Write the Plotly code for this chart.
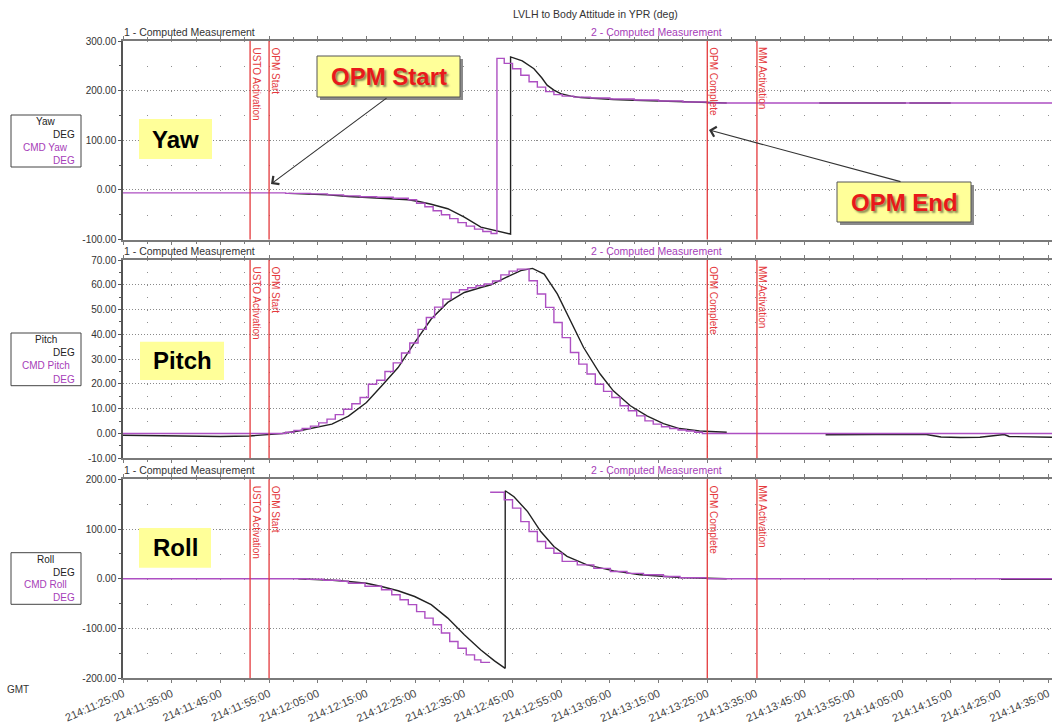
import plotly.graph_objects as go

W, H = 1052, 728
FONT = "Liberation Sans, Arial, sans-serif"
BLACK = "#222222"
PURPLE = "#ad4fc2"
PURPLE_TXT = "#a63db8"
RED = "#e4393c"
X_END = 190.8

# ---------------- data (time in minutes after 214:11:25:00) ----------------
tick_minutes = [0, 10, 20, 30, 40, 50, 60, 70, 80, 90, 100, 110, 120, 130, 140, 150, 160, 170, 180, 190]
tick_labels = ["214:11:25:00", "214:11:35:00", "214:11:45:00", "214:11:55:00", "214:12:05:00",
               "214:12:15:00", "214:12:25:00", "214:12:35:00", "214:12:45:00", "214:12:55:00",
               "214:13:05:00", "214:13:15:00", "214:13:25:00", "214:13:35:00", "214:13:45:00",
               "214:13:55:00", "214:14:05:00", "214:14:15:00", "214:14:25:00", "214:14:35:00"]

event_names = ["USTO Activation", "OPM Start", "OPM Complete", "MM Activation"]
event_minutes = [26.1, 30.0, 120.0, 130.2]

# Yaw
yaw_t = [34, 38, 42, 46.3, 50, 54, 58.6, 61, 63.3, 66.7, 70.1, 73.5, 76.9, 79.6, 79.6, 82, 84.4, 86,
         87.1, 88.5, 89.9, 92, 94, 97, 100.7, 105, 110, 115, 120, 124, 130, 143, 160.8, 161.2, 161.5, 170]
yaw_v = [-7, -8, -10, -13.5, -15, -17, -20, -24, -29, -38, -55, -75, -83.5, -89, 268, 260, 244, 226,
         211, 201, 194, 189, 186, 184, 182, 180.5, 179, 177, 175, 175, None, 175, 175, None, 175, 175]
cmd_yaw_t = [0, 33.4, 38.5, 42.0, 45.3, 48.7, 52.1, 55.5, 58.6, 60.3, 62.0, 63.7, 65.4, 67.1, 68.8,
             70.5, 72.2, 73.9, 75.6, 76.8, 78.3, 80.0, 81.7, 83.4, 85.1, 86.8, 88.5, 90.2, 92.6, 96.0,
             100.0, 105.0, 110.0, 115.0, 120.0, 190.8]
cmd_yaw_v = [-6, -7, -8, -10, -12, -14, -15, -17, -20, -27, -34, -42, -50, -58, -66,
             -73, -79, -84, -88, 265, 255, 244, 231, 218, 207, 198, 192, 189, 187, 185,
             183, 181, 179, 177, 175, 175]

# Pitch
pitch_t = [0, 10, 20, 26, 30, 32.7, 36, 40, 42.9, 46.3, 50, 53.1, 56.5, 59.9, 63.3, 66.7, 70.1, 73.5,
           75.6, 78.7, 81.7, 84.1, 86.5, 89.2, 91.9, 94.6, 98.0, 100.7, 104.2, 107.6, 111.0, 114.3,
           118.4, 121, 124, 130, 144.3, 150, 155, 160, 164.7, 168, 172, 176, 180, 181, 182, 190.8]
pitch_v = [-0.7, -1, -1.2, -1, -0.3, 0, 1, 2.5, 3.8, 7, 12.5, 19.2, 26.6, 36.7, 46.2, 52.9, 56.9, 58.9,
           60, 63, 65.7, 66.6, 64.3, 56.3, 45.5, 34.7, 24, 17.2, 11.2, 7.1, 4, 2,
           1, 0.7, 0.5, None, -0.5, -0.5, -0.5, -0.4, -0.3, -1.4, -1.6, -1.5, -0.8, -0.4, -1.2, -1.5]
cmd_pitch_t = [0, 33.4, 35.1, 36.8, 38.5, 40.2, 41.9, 43.6, 45.3, 47.0, 48.7, 50.4, 52.1, 53.8, 55.5,
               57.2, 58.9, 60.6, 62.3, 64.0, 65.7, 67.4, 69.1, 70.8, 72.5, 74.2, 75.9, 77.6, 79.3,
               81.0, 83.4, 85.1, 86.8, 88.5, 90.2, 91.9, 93.6, 95.3, 97.0, 98.7, 100.4, 102.1,
               103.8, 105.5, 107.2, 108.9, 110.6, 112.3, 114.0, 115.7, 117.4, 119.0, 190.8]
cmd_pitch_v = [0, 0.5, 1.2, 2.0, 3.0, 4.3, 5.8, 7.6, 9.8, 12.0, 14.5, 19.9, 21.5, 25.0, 28.5,
               32.5, 36.5, 42.0, 46.8, 51.0, 54.2, 56.9, 58.0, 58.8, 59.6, 60.3, 61.5, 64.0, 65.5,
               66.3, 61.6, 56.3, 50.9, 44.8, 38.7, 32.7, 28.0, 24.0, 19.9, 17.0, 14.5, 11.2,
               9.2, 7.1, 5.1, 3.8, 2.7, 2.0, 1.4, 1.0, 0.5, 0, 0]

# Roll
roll_t = [36, 40, 43, 46.3, 50, 53.1, 56.5, 59.9, 63.3, 66.7, 70.1, 73.5, 76.3, 78.5, 78.5, 80.3, 83.1,
          85.8, 88.5, 91.2, 95.3, 100.8, 106.2, 114.4, 120, 124, 150, 180.3, 190.8]
roll_v = [0, -1, -3, -5.4, -9, -15.5, -24, -35.6, -52, -79, -112.6, -143, -165, -180, 177, 165, 135,
          95, 65, 45, 28, 16, 8, 2.6, 0.5, 0, None, -1, -1]
cmd_roll_t = [0, 37.8, 41.2, 44.6, 46.3, 49.7, 53.1, 55.2, 56.9, 58.6, 60.3, 62.0, 63.7, 65.4, 67.1,
              68.8, 70.5, 72.2, 73.5, 75.4, 75.4, 75.4, 78.3, 80.0, 81.7, 83.4, 85.1, 86.8, 88.5,
              90.2, 93.3, 96.7, 100.1, 103.5, 106.9, 111.0, 114.4, 120.0, 190.8]
cmd_roll_v = [0, -1, -3, -5, -9, -15, -22, -32, -42, -52, -66, -79, -92.5, -109, -126,
              -139.5, -153, -163, -168, -168, None, 174, 159, 142, 115, 95, 75, 61.5, 51.5,
              35, 28, 21, 14.7, 11, 8, 4.6, 2, 0, 0]

yaw_ticks = [-100, 0, 100, 200, 300]
yaw_ticktext = ["-100.00", "0.00", "100.00", "200.00", "300.00"]
pitch_ticks = [-10, 0, 10, 20, 30, 40, 50, 60, 70]
pitch_ticktext = ["-10.00", "0.00", "10.00", "20.00", "30.00", "40.00", "50.00", "60.00", "70.00"]
roll_ticks = [-200, -100, 0, 100, 200]
roll_ticktext = ["-200.00", "-100.00", "0.00", "100.00", "200.00"]

panel_names = ["Yaw", "Pitch", "Roll"]

# ---------------- layout helpers (pixel -> paper) ----------------
def fx(p):
    return p / W


def fy(p):
    return 1 - p / H


panels = [  # (top px, bottom px, vertical dot pattern)
    (41.0, 239.5, "1px,23.81px"),
    (260.0, 458.3, "1px,11.39px"),
    (479.3, 678.3, "1px,23.88px"),
]

fig = go.Figure()

series = [
    (yaw_t, yaw_v, cmd_yaw_t, cmd_yaw_v),
    (pitch_t, pitch_v, cmd_pitch_t, cmd_pitch_v),
    (roll_t, roll_v, cmd_roll_t, cmd_roll_v),
]
for i, (bt, bv, ct, cv) in enumerate(series):
    xa = "x" if i == 0 else f"x{i+1}"
    ya = "y" if i == 0 else f"y{i+1}"
    fig.add_trace(go.Scatter(x=bt, y=bv, mode="lines", xaxis=xa, yaxis=ya,
                             line=dict(color=BLACK, width=1.4), connectgaps=False,
                             name=panel_names[i], hoverinfo="skip"))
    fig.add_trace(go.Scatter(x=ct, y=cv, mode="lines", xaxis=xa, yaxis=ya,
                             line=dict(color=PURPLE, width=1.4, shape="hv"), connectgaps=False,
                             name="CMD " + panel_names[i], hoverinfo="skip"))

ranges = [[-100, 300], [-10, 70], [-200, 200]]
tvals = [yaw_ticks, pitch_ticks, roll_ticks]
ttext = [yaw_ticktext, pitch_ticktext, roll_ticktext]
minor_dt = [50, 5, 50]

layout = dict(
    width=W, height=H, autosize=False,
    margin=dict(l=0, r=0, t=0, b=0),
    paper_bgcolor="white", plot_bgcolor="white",
    showlegend=False,
    font=dict(family=FONT, color="#333333", size=10),
)

for i, (top, bot, vdash) in enumerate(panels):
    xk = "xaxis" if i == 0 else f"xaxis{i+1}"
    yk = "yaxis" if i == 0 else f"yaxis{i+1}"
    ya = "y" if i == 0 else f"y{i+1}"
    xa = "x" if i == 0 else f"x{i+1}"
    layout[xk] = dict(
        domain=[fx(123), 1], range=[0, X_END], anchor=ya,
        tickmode="array", tickvals=tick_minutes, ticktext=tick_labels,
        showticklabels=(i == 2), tickangle=-24, ticklabeloverflow="allow",
        tickfont=dict(family=FONT, size=11, color="#444444"),
        showline=True, linecolor="#7a7a7a", linewidth=2, mirror="ticks",
        ticks="outside", ticklen=3, tickcolor="#7a7a7a",
        showgrid=True, gridcolor="#8f8f8f", gridwidth=1, griddash=vdash,
        minor=dict(tickmode="linear", tick0=0, dtick=5, ticks="outside", ticklen=2,
                   tickcolor="#7a7a7a", showgrid=True, gridcolor="#8f8f8f",
                   gridwidth=1, griddash=vdash),
        zeroline=False, automargin=False, fixedrange=True,
    )
    if i > 0:
        layout[xk]["matches"] = "x"
    layout[yk] = dict(
        domain=[fy(bot), fy(top)], range=ranges[i], anchor=xa,
        tickmode="array", tickvals=tvals[i], ticktext=ttext[i],
        tickfont=dict(family=FONT, size=10, color="#333333"),
        showline=True, linecolor="#555555", linewidth=1.5, mirror=False,
        ticks="outside", ticklen=3, tickcolor="#555555",
        minor=dict(tickmode="linear", tick0=0, dtick=minor_dt[i], ticks="outside",
                   ticklen=2, tickcolor="#555555", showgrid=False),
        showgrid=True, gridcolor="#8a8a8a", gridwidth=1, griddash="1px,2px",
        zeroline=False, automargin=False, fixedrange=True,
    )

fig.update_layout(**layout)

shapes = []
annotations = []

# event lines + labels
for i in range(3):
    xa = "x" if i == 0 else f"x{i+1}"
    ya = "y" if i == 0 else f"y{i+1}"
    for name, t in zip(event_names, event_minutes):
        shapes.append(dict(type="line", xref=xa, yref=f"{ya} domain", x0=t, x1=t, y0=0, y1=1,
                           line=dict(color=RED, width=1.3), layer="above"))
        annotations.append(dict(text=name, xref=xa, yref=f"{ya} domain", x=t, y=1,
                                xanchor="center", yanchor="top", xshift=6, yshift=-4,
                                textangle=90, showarrow=False,
                                font=dict(family=FONT, size=10, color=RED)))

# panel header texts
for top, _, _ in panels:
    annotations.append(dict(text="1 - Computed Measurement", xref="paper", yref="paper",
                            x=fx(122), y=fy(top - 9), xanchor="left", yanchor="middle",
                            showarrow=False, font=dict(family=FONT, size=10.5, color="#333333")))
    annotations.append(dict(text="2 - Computed Measurement", xref="paper", yref="paper",
                            x=fx(656), y=fy(top - 9), xanchor="center", yanchor="middle",
                            showarrow=False, font=dict(family=FONT, size=10.5, color=PURPLE_TXT)))

annotations.append(dict(text="LVLH to Body Attitude in YPR (deg)", xref="paper", yref="paper",
                        x=fx(595), y=fy(14), xanchor="center", yanchor="middle", showarrow=False,
                        font=dict(family=FONT, size=10.5, color="#333333")))
annotations.append(dict(text="GMT", xref="paper", yref="paper", x=fx(18), y=fy(689),
                        xanchor="center", yanchor="middle", showarrow=False,
                        font=dict(family=FONT, size=10, color="#333333")))

# legend boxes
legend_boxes = [(115, 167), (333, 385.7), (552.7, 604.3)]
for i, (t0, t1) in enumerate(legend_boxes):
    shapes.append(dict(type="rect", xref="paper", yref="paper", x0=fx(11), x1=fx(81),
                       y0=fy(t1), y1=fy(t0), line=dict(color="#444444", width=1)))
    step = (t1 - t0) / 4
    rows = [(panel_names[i], "center", 45.5, "#222222"),
            ("DEG", "right", 77, "#222222"),
            ("CMD " + panel_names[i], "center", 45.5, PURPLE_TXT),
            ("DEG", "right", 77, PURPLE_TXT)]
    for r, (txt, anc, xx, col) in enumerate(rows):
        annotations.append(dict(text=txt, xref="paper", yref="paper", x=fx(xx),
                                y=fy(t0 + step * (r + 0.5)), xanchor=anc, yanchor="middle",
                                showarrow=False, font=dict(family=FONT, size=10, color=col)))

# yellow panel labels
label_boxes = [(139, 212, 119, 159), (140, 224, 341.7, 380), (139, 211, 528, 567.7)]
for i, (x0, x1, y0, y1) in enumerate(label_boxes):
    shapes.append(dict(type="rect", xref="paper", yref="paper", x0=fx(x0), x1=fx(x1),
                       y0=fy(y1), y1=fy(y0), fillcolor="#ffff99", line=dict(width=0),
                       layer="above"))
    annotations.append(dict(text=f"<b>{panel_names[i]}</b>", xref="paper", yref="paper",
                            x=fx((x0 + x1) / 2), y=fy((y0 + y1) / 2), xanchor="center",
                            yanchor="middle", showarrow=False,
                            font=dict(family=FONT, size=24, color="#000000")))

# OPM callouts
callouts = [("OPM Start", 317, 460, 56, 97), ("OPM End", 837, 971, 182, 222)]
for txt, x0, x1, y0, y1 in callouts:
    shapes.append(dict(type="rect", xref="paper", yref="paper", x0=fx(x0 + 3), x1=fx(x1 + 3),
                       y0=fy(y1 + 3), y1=fy(y0 + 3), fillcolor="#8a8a8a", line=dict(width=0),
                       layer="above"))
    shapes.append(dict(type="rect", xref="paper", yref="paper", x0=fx(x0), x1=fx(x1),
                       y0=fy(y1), y1=fy(y0), fillcolor="#ffff99",
                       line=dict(color="#555555", width=1), layer="above"))
    annotations.append(dict(text=f"<b>{txt}</b>", xref="paper", yref="paper",
                            x=fx((x0 + x1) / 2), y=fy((y0 + y1) / 2), xanchor="center",
                            yanchor="middle", showarrow=False,
                            font=dict(family=FONT, size=24, color="#e8191b",
                                      shadow="2px 2px 2px rgba(0,0,0,0.45)")))

# arrows (head pixel position, tail pixel position)
arrows = [((271, 184), (388, 97)), ((709, 130), (902, 182))]
for (hx, hy), (tx, ty) in arrows:
    annotations.append(dict(text="", xref="paper", yref="paper", x=fx(hx), y=fy(hy),
                            ax=tx - hx, ay=ty - hy, showarrow=True, arrowhead=4,
                            arrowsize=1.8, arrowwidth=1.1, arrowcolor="#333333", standoff=0))

fig.update_layout(shapes=shapes, annotations=annotations)

fig.write_html("out.html", config={"displayModeBar": False})
